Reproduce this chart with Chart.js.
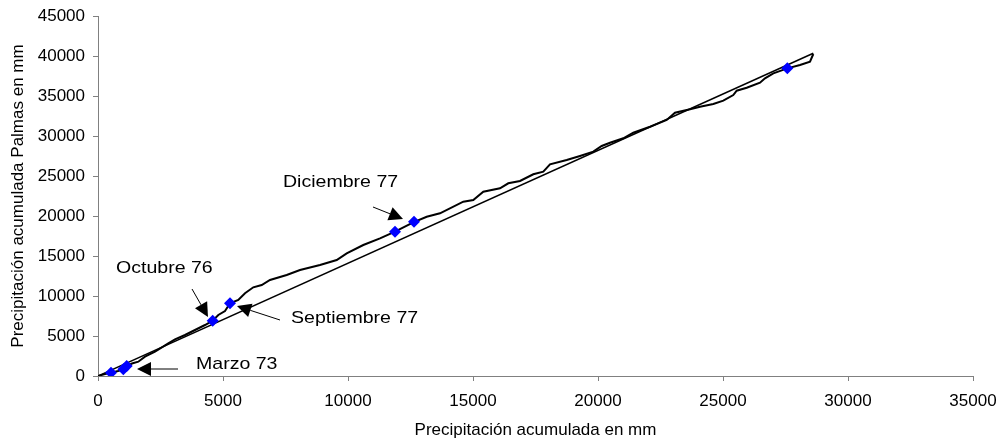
<!DOCTYPE html>
<html>
<head>
<meta charset="utf-8">
<script src="https://cdn.jsdelivr.net/npm/chart.js@4/dist/chart.umd.min.js"></script>
<style>
html, body { margin: 0; padding: 0; background: #fff; }
</style>
</head>
<body>
<canvas id="chart" width="998" height="444"></canvas>
<script>
// cumulative rainfall: reference station (x) vs Palmas (y), mm
const curveX = [0, 280, 520, 800, 1012, 1148, 1360, 1612, 1880, 2280, 2812, 3080, 3480, 3880, 4280, 4588,
    4812, 5080, 5280, 5612, 5880, 6212, 6548, 6880, 7548, 8080, 8880, 9548, 9948, 10612, 11280, 11880,
    12612, 13148, 13680, 14612, 15012, 15412, 16080, 16412, 16880, 17412, 17812, 18080, 18748, 19280,
    19812, 20148, 20480, 21012, 21412, 22080, 22748, 23080, 23680, 24080, 24612, 25012, 25412, 25548,
    25948, 26480, 26680, 27012, 27573, 28080, 28480, 28612];
const curveY = [0, 250, 412, 625, 838, 1250, 1562, 1788, 2412, 3038, 4088, 4588, 5125, 5750, 6375, 6912,
    7625, 8125, 9088, 9500, 10338, 11088, 11375, 12000, 12625, 13250, 13875, 14500, 15338, 16375, 17212, 18038,
    19212, 19912, 20338, 21788, 22000, 23038, 23462, 24088, 24375, 25212, 25538, 26462, 27000, 27500,
    28038, 28750, 29162, 29712, 30412, 31162, 32000, 32912, 33338, 33662, 34000, 34412, 35125, 35662,
    36038, 36662, 37212, 37838, 38458, 38875, 39288, 40250];

// straight reference line
const lineX = [0, 28612];
const lineY = [0, 40338];

// highlighted months
const markX = [520, 1012, 1148, 4588, 5280, 11880, 12640, 27573];
const markY = [412, 838, 1250, 6912, 9088, 18038, 19290, 38458];

// labels with arrows (data units)
const notes = [
    { text: 'Octubre 76', tx: 720, ty: 13500, fx: 3760, fy: 10875, ax: 4400, ay: 7375 },
    { text: 'Septiembre 77', tx: 7720, ty: 7250, fx: 7280, fy: 7000, ax: 5560, ay: 8750 },
    { text: 'Marzo 73', tx: 3920, ty: 1500, fx: 3200, fy: 875, ax: 1560, ay: 875 },
    { text: 'Diciembre 77', tx: 7400, ty: 24250, fx: 11000, fy: 21125, ax: 12200, ay: 19625 }
];

const xMin = 0, xMax = 35000, xStep = 5000;
const yMin = 0, yMax = 45000, yStep = 5000;

const toPoints = (xs, ys) => xs.map((x, i) => ({ x: x, y: ys[i] }));

const fontName = "'Liberation Sans', Arial, sans-serif";

const notesPlugin = {
    id: 'notes',
    afterDatasetsDraw(chart) {
        const ctx = chart.ctx;
        const xs = chart.scales.x, ys = chart.scales.y;
        ctx.save();
        notes.forEach(n => {
            ctx.fillStyle = '#000';
            ctx.font = '17px ' + fontName;
            ctx.textAlign = 'left';
            ctx.textBaseline = 'middle';
            ctx.save();
            ctx.translate(xs.getPixelForValue(n.tx), ys.getPixelForValue(n.ty));
            ctx.scale(1.15, 1); // the original text is a bit wider
            ctx.fillText(n.text, 0, 0);
            ctx.restore();
            // arrow
            const x1 = xs.getPixelForValue(n.fx), y1 = ys.getPixelForValue(n.fy);
            const x2 = xs.getPixelForValue(n.ax), y2 = ys.getPixelForValue(n.ay);
            const ang = Math.atan2(y2 - y1, x2 - x1);
            const head = 14, half = 7;
            ctx.strokeStyle = '#000';
            ctx.lineWidth = 1;
            ctx.beginPath();
            ctx.moveTo(x1, y1);
            ctx.lineTo(x2 - Math.cos(ang) * head, y2 - Math.sin(ang) * head);
            ctx.stroke();
            ctx.beginPath();
            ctx.moveTo(x2, y2);
            ctx.lineTo(x2 - Math.cos(ang) * head - Math.sin(ang) * half, y2 - Math.sin(ang) * head + Math.cos(ang) * half);
            ctx.lineTo(x2 - Math.cos(ang) * head + Math.sin(ang) * half, y2 - Math.sin(ang) * head - Math.cos(ang) * half);
            ctx.closePath();
            ctx.fill();
        });
        ctx.restore();
    }
};

const axisGrid = {
    drawOnChartArea: false,
    drawTicks: true,
    tickLength: 5,
    color: '#808080',
    lineWidth: 1
};

const plainTick = v => String(v);

const config = {
    type: 'scatter',
    data: {
        datasets: [
            {
                label: 'Palmas',
                data: toPoints(markX, markY),
                pointStyle: 'rectRot',
                pointRadius: 6,
                backgroundColor: '#0000ff',
                borderColor: '#0000ff',
                borderWidth: 0,
                showLine: false,
                order: 0
            },
            {
                label: 'Acumulada',
                data: toPoints(curveX, curveY),
                showLine: true,
                borderColor: '#000',
                borderWidth: 2,
                pointRadius: 0,
                tension: 0,
                order: 1
            },
            {
                label: 'Recta',
                data: toPoints(lineX, lineY),
                showLine: true,
                borderColor: '#000',
                borderWidth: 1.5,
                pointRadius: 0,
                order: 2
            }
        ]
    },
    options: {
        responsive: false,
        animation: false,
        devicePixelRatio: 1,
        layout: { padding: { left: 0, right: 25, top: 16, bottom: 0 } },
        plugins: {
            legend: { display: false },
            tooltip: { enabled: false }
        },
        scales: {
            x: {
                type: 'linear',
                min: xMin, max: xMax,
                grid: axisGrid,
                border: { color: '#808080', width: 1 },
                ticks: { stepSize: xStep, padding: 10, color: '#000', maxRotation: 0,
                    font: { family: fontName, size: 17 }, callback: plainTick },
                title: { display: true, text: 'Precipitación acumulada en mm', color: '#000',
                    font: { family: fontName, size: 17 }, padding: { top: 3, bottom: 3 } },
                afterFit(scale) {
                    scale.height = 68;
                    scale.paddingLeft = 0;
                    scale.paddingRight = 0;
                }
            },
            y: {
                type: 'linear',
                min: yMin, max: yMax,
                grid: axisGrid,
                border: { color: '#808080', width: 1 },
                ticks: { stepSize: yStep, padding: 8, color: '#000',
                    font: { family: fontName, size: 17 }, callback: plainTick },
                title: { display: true, text: 'Precipitación acumulada Palmas en mm', color: '#000',
                    font: { family: fontName, size: 17 }, padding: { top: 8, bottom: 0 } },
                afterFit(scale) {
                    scale.width = 98;
                    scale.paddingTop = 0;
                    scale.paddingBottom = 0;
                }
            }
        }
    },
    plugins: [notesPlugin]
};

const chart = new Chart(document.getElementById('chart'), config);
</script>
</body>
</html>
